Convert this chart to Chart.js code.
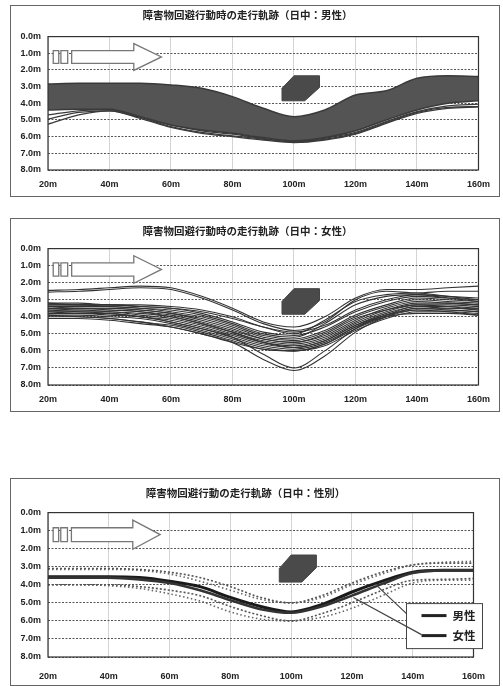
<!DOCTYPE html>
<html>
<head>
<meta charset="utf-8">
<script src="https://cdn.jsdelivr.net/npm/chart.js@4.4.1/dist/chart.umd.min.js"></script>
<style>
body{margin:0;background:#fff;width:503px;height:686px;overflow:hidden;position:relative}
.frame{position:absolute;left:10px;width:488px;border:1px solid #666;background:#fff}
.frame canvas{display:block}
#f1{top:5px;height:190px}
#f2{top:218px;height:192px}
#f3{top:478px;height:206px}
</style>
</head>
<body>
<div class="frame" id="f1"><canvas id="c1"></canvas></div>
<div class="frame" id="f2"><canvas id="c2"></canvas></div>
<div class="frame" id="f3"><canvas id="c3"></canvas></div>
<script>
/* ---------- data (distance along road, lateral position in m) ---------- */
const xs = [20,30,40,50,60,70,80,90,100,110,120,130,140,150,160];
const xTicks = [20,40,60,80,100,120,140,160];
const yTicks = [0,1,2,3,4,5,6,7,8];

const titles = [
  '障害物回避行動時の走行軌跡（日中：男性）',
  '障害物回避行動時の走行軌跡（日中：女性）',
  '障害物回避行動の走行軌跡（日中：性別）'
];

// chart 1 : male, dense band
const maleBandTop    = [2.85,2.8,2.8,2.8,2.9,3.1,3.6,4.3,4.8,4.4,3.5,3.25,2.5,2.35,2.4];
const maleBandBottom = [4.4,4.35,4.35,4.8,5.3,5.6,5.8,6.05,6.25,6.05,5.65,5.0,4.4,4.0,3.85];
const maleOutliers = [
  [5.25,4.7,4.45,4.85,5.4,5.75,5.95,6.15,6.32,6.15,5.8,5.15,4.55,4.25,4.2],
  [4.95,4.55,4.45,4.9,5.45,5.8,6.0,6.2,6.35,6.2,5.85,5.2,4.6,4.3,4.22],
  [4.7,4.45,4.4,4.8,5.3,5.65,5.85,6.1,6.3,6.1,5.75,5.1,4.5,4.15,4.05]
];
const maleStreaks = [
  [4.3,4.25,4.28,4.65,5.1,5.45,5.65,5.92,6.12,5.92,5.5,4.85,4.3,3.95,3.75],
  [null,null,4.05,4.4,4.85,5.2,5.45,null,null,null,null,null,null,null,null],
  [null,null,null,null,null,null,null,null,null,4.5,3.65,3.38,2.65,null,null],
  [null,null,null,null,null,null,null,null,null,null,null,4.4,3.85,3.6,null]
];

// chart 2 : female, individual tracks
const femaleTracks = [
  [2.45,2.4,2.3,2.2,2.3,2.8,3.5,4.3,4.6,4.0,2.9,2.4,2.4,2.3,2.2],
  [2.55,2.5,2.4,2.3,2.4,2.9,3.6,4.4,4.8,4.3,3.0,2.5,2.6,2.5,2.5],
  [3.2,3.2,3.3,3.3,3.4,3.6,4.0,4.6,4.9,4.5,3.6,3.0,2.7,2.8,2.9],
  [3.3,3.3,3.3,3.4,3.5,3.8,4.3,4.9,5.1,4.6,3.7,3.1,2.8,2.9,3.0],
  [3.4,3.4,3.4,3.5,3.7,4.0,4.5,5.1,5.3,4.8,3.9,3.3,2.9,3.0,3.1],
  [3.5,3.5,3.5,3.6,3.8,4.1,4.6,5.2,5.4,4.9,4.0,3.4,3.0,3.1,3.2],
  [3.5,3.6,3.6,3.7,3.9,4.3,4.8,5.3,5.5,5.1,4.2,3.5,3.1,3.2,3.3],
  [3.6,3.6,3.7,3.8,4.0,4.4,4.9,5.4,5.6,5.2,4.3,3.6,3.2,3.2,3.3],
  [3.7,3.7,3.7,3.9,4.1,4.5,5.0,5.5,5.7,5.3,4.4,3.7,3.3,3.3,3.4],
  [3.7,3.8,3.8,4.0,4.2,4.6,5.1,5.6,5.8,5.4,4.5,3.8,3.4,3.4,3.5],
  [3.8,3.8,3.9,4.0,4.3,4.7,5.2,5.7,5.9,5.5,4.6,3.9,3.5,3.5,3.6],
  [3.9,3.9,4.0,4.1,4.4,4.8,5.3,5.8,6.0,5.6,4.7,4.0,3.6,3.6,3.7],
  [4.0,4.0,4.1,4.3,4.5,4.9,5.4,5.9,6.0,5.7,4.8,4.1,3.7,3.7,3.8],
  [4.1,4.1,4.2,4.4,4.6,5.0,5.5,5.9,6.0,5.6,4.6,4.0,3.8,3.8,3.9],
  [3.2,3.3,3.3,3.4,3.5,3.7,4.1,4.6,5.0,4.2,3.1,2.7,2.6,2.8,3.0],
  [3.3,3.3,3.4,3.5,3.6,3.9,4.4,5.0,5.2,4.4,3.3,2.8,2.7,2.9,3.1],
  [3.4,3.5,3.5,3.6,3.8,4.2,4.7,5.3,5.5,5.0,4.1,3.6,3.3,3.4,3.6],
  [3.5,3.5,3.6,3.7,4.0,4.4,4.9,5.5,5.8,5.4,4.5,3.9,3.6,3.7,3.9],
  [3.9,4.0,4.1,4.3,4.6,5.0,5.5,6.5,7.15,6.3,4.9,4.0,3.5,3.6,3.7],
  [3.6,3.7,3.8,4.0,4.3,4.7,5.2,6.2,7.0,6.0,4.7,3.9,3.4,3.5,3.5]
];

// chart 3 : mean and +/- sigma by sex
const maleMean    = [3.55,3.55,3.55,3.6,3.8,4.1,4.7,5.2,5.5,5.1,4.4,3.8,3.3,3.2,3.2];
const femaleMean  = [3.6,3.6,3.6,3.7,3.9,4.3,4.85,5.35,5.55,5.2,4.6,3.95,3.35,3.2,3.2];
const maleUpper   = [3.1,3.1,3.1,3.15,3.3,3.6,4.1,4.7,5.0,4.6,3.9,3.3,2.9,2.8,2.8];
const maleLower   = [4.0,4.0,4.0,4.1,4.3,4.6,5.2,5.7,6.0,5.6,5.0,4.3,3.75,3.7,3.65];
const femaleUpper = [3.15,3.15,3.15,3.2,3.4,3.8,4.3,4.8,5.0,4.7,4.0,3.4,2.9,2.75,2.7];
const femaleLower = [4.0,4.0,4.05,4.2,4.5,4.9,5.5,5.9,6.0,5.8,5.3,4.6,3.9,3.75,3.75];
const legendLabels = ['男性','女性'];

/* ---------- helpers ---------- */
const pts = arr => xs.map((x,i) => ({ x, y: arr[i] }));
function track(arr, color, width, dash, extra){
  return Object.assign({ data: pts(arr), borderColor: color, borderWidth: width, borderDash: dash || [],
    pointRadius: 0, fill: false, cubicInterpolationMode: 'monotone', spanGaps: false }, extra || {});
}

/* ---------- decorations: travel arrow, car, obstacle, frame, legend ---------- */
const decor = {
  id: 'decor',
  beforeDatasetsDraw(chart){
    const { ctx, scales:{ x, y } } = chart;
    const P = (a,b) => [x.getPixelForValue(a), y.getPixelForValue(b)];
    const poly = (list, fill, stroke, lw) => {
      ctx.beginPath();
      list.forEach((p,i) => { const q = P(p[0],p[1]); i ? ctx.lineTo(q[0],q[1]) : ctx.moveTo(q[0],q[1]); });
      ctx.closePath();
      if (fill){ ctx.fillStyle = fill; ctx.fill(); }
      if (stroke){ ctx.strokeStyle = stroke; ctx.lineWidth = lw; ctx.stroke(); }
    };
    ctx.save();
    // arrow
    poly([[27.7,0.84],[47.9,0.84],[47.9,0.42],[56.9,1.22],[47.9,2.03],[47.9,1.61],[27.7,1.61]], '#fff', '#777', 1.3);
    // car
    poly([[21.7,0.84],[23.5,0.84],[23.5,1.61],[21.7,1.61]], '#fff', '#777', 1.3);
    poly([[24.2,0.84],[26.4,0.84],[26.4,1.61],[24.2,1.61]], '#fff', '#777', 1.3);
    // obstacle
    poly([[96.1,3.85],[96.1,3.1],[100,2.35],[108.3,2.35],[108.3,3.05],[103.5,3.85]], '#4a4a4a', '#444', 1);
    ctx.restore();
  },
  afterDatasetsDraw(chart, args, opts){
    const { ctx, chartArea:a, scales:{ x, y } } = chart;
    ctx.save();
    ctx.strokeStyle = '#333'; ctx.lineWidth = 1.2;
    ctx.strokeRect(a.left, a.top, a.right - a.left, a.bottom - a.top);
    if (opts.legend){
      const bx = a.right - 67, by = a.top + 91, bw = 76, bh = 45;
      ctx.fillStyle = '#fff'; ctx.fillRect(bx, by, bw, bh);
      ctx.strokeStyle = '#444'; ctx.lineWidth = 1; ctx.strokeRect(bx, by, bw, bh);
      ctx.strokeStyle = '#444'; ctx.lineWidth = 1.2;
      ctx.beginPath();
      ctx.moveTo(bx, by + 10); ctx.lineTo(x.getPixelForValue(127.6), y.getPixelForValue(3.95));
      ctx.moveTo(bx + 15, by + 31); ctx.lineTo(x.getPixelForValue(120.5), y.getPixelForValue(4.7));
      ctx.stroke();
      ctx.font = 'bold 11.5px "Noto Sans CJK JP"';
      ctx.textBaseline = 'middle';
      legendLabels.forEach((t,i) => {
        const ly = by + 12 + i*20;
        ctx.strokeStyle = '#222'; ctx.lineWidth = 3;
        ctx.beginPath(); ctx.moveTo(bx + 15, ly); ctx.lineTo(bx + 40, ly); ctx.stroke();
        ctx.fillStyle = '#222'; ctx.fillText(t, bx + 46, ly);
      });
    }
    ctx.restore();
  }
};

function makeChart(id, datasets, title, geo, legend){
  return new Chart(document.getElementById(id), {
    type: 'line',
    data: { datasets },
    plugins: [decor],
    options: {
      responsive: true, maintainAspectRatio: false, animation: false,
      layout: { padding: { left: 0, right: geo.right, top: 0, bottom: 0 } },
      plugins: {
        legend: { display: false }, tooltip: { enabled: false },
        title: { display: true, text: title, color: '#222',
          font: { family: '"Noto Sans CJK JP"', size: 10.5, weight: 'bold' },
          padding: { top: geo.tTop, bottom: geo.tBottom } },
        decor: { legend }
      },
      scales: {
        x: { type: 'linear', min: 20, max: 160,
          afterFit: s => { s.height = geo.xh; },
          afterBuildTicks: s => { s.ticks = xTicks.map(v => ({ value: v })); },
          ticks: { callback: v => v + 'm', color: '#222', padding: geo.xpad, maxRotation: 0,
            font: { family: '"Liberation Sans"', size: 9, weight: 'bold' } },
          grid: { color: '#aaa', lineWidth: 1, drawTicks: false },
          border: { display: false, dash: [1,1] } },
        y: { reverse: true, min: 0, max: 8,
          afterFit: s => { s.width = 37; },
          afterBuildTicks: s => { s.ticks = yTicks.map(v => ({ value: v })); },
          ticks: { callback: v => v.toFixed(1) + 'm', color: '#222', padding: 7,
            font: { family: '"Liberation Sans"', size: 9, weight: 'bold' } },
          grid: { color: '#555', lineWidth: 1, drawTicks: false },
          border: { display: false, dash: [2,1.5] } }
      }
    }
  });
}

/* chart 1 */
const ds1 = [
  track(maleBandTop, '#3a3a3a', 1.5),
  track(maleBandBottom, '#3a3a3a', 1.5, null, { fill: '-1', backgroundColor: '#545454' })
];
maleOutliers.forEach(a => ds1.push(track(a, '#3a3a3a', 1.3)));
maleStreaks.forEach(a => ds1.push(track(a, 'rgba(255,255,255,0.85)', 1)));
makeChart('c1', ds1, titles[0], { right: 15, xh: 26, xpad: 9, tTop: 3, tBottom: 15 }, false);

/* chart 2 */
const ds2 = femaleTracks.map(a => track(a, '#333', 1.1));
makeChart('c2', ds2, titles[1], { right: 15, xh: 26, xpad: 9, tTop: 6, tBottom: 11 }, false);

/* chart 3 */
const ds3 = [
  track(maleUpper, '#555', 1.6, [2,2]),
  track(maleLower, '#555', 1.6, [2,2]),
  track(femaleUpper, '#666', 1.6, [1.5,2.5]),
  track(femaleLower, '#666', 1.6, [1.5,2.5]),
  track(femaleMean, '#333', 2.6),
  track(maleMean, '#1a1a1a', 3)
];
makeChart('c3', ds3, titles[2], { right: 19, xh: 28, xpad: 14, tTop: 8, tBottom: 13 }, true);
</script>
</body>
</html>
